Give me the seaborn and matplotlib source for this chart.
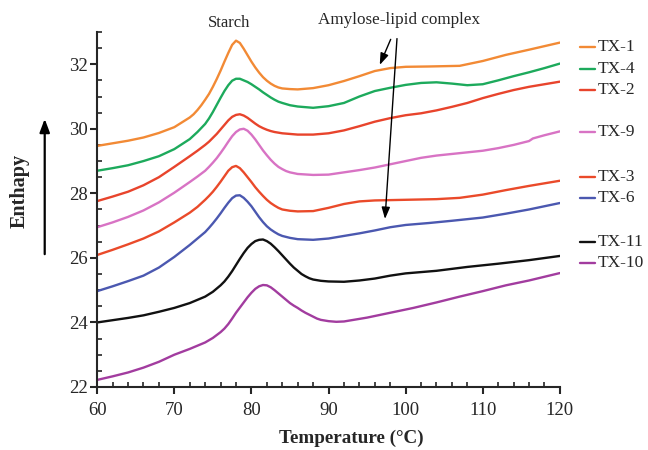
import numpy as np
import pandas as pd
import matplotlib
matplotlib.use("Agg")
import matplotlib.pyplot as plt
import seaborn as sns

# DSC thermograms: temperature (°C) vs. enthalpy signal for each sample
tx1_t = [60, 62, 64, 66, 68, 70, 72, 72.5, 73, 73.5, 74, 74.5, 75, 75.5, 76, 76.5, 77, 77.5, 78, 78.5, 79, 79.5, 80, 80.5, 81, 81.5, 82, 82.5, 83, 83.5, 84, 85, 86, 88, 90, 92, 94, 96, 98, 100, 103, 107, 110, 113, 116, 120]
tx1_h = [29.47, 29.55, 29.63, 29.73, 29.87, 30.05, 30.35, 30.45, 30.58, 30.73, 30.9, 31.08, 31.3, 31.54, 31.8, 32.08, 32.35, 32.6, 32.73, 32.66, 32.48, 32.28, 32.08, 31.9, 31.74, 31.6, 31.49, 31.4, 31.33, 31.28, 31.25, 31.23, 31.22, 31.26, 31.35, 31.48, 31.63, 31.79, 31.88, 31.92, 31.93, 31.95, 32.1, 32.29, 32.45, 32.67]

tx4_t = [60, 62, 64, 66, 68, 70, 72, 73, 74, 74.5, 75, 75.5, 76, 76.5, 77, 77.5, 78, 78.5, 79, 79.5, 80, 80.5, 81, 81.5, 82, 82.5, 83, 83.5, 84, 85, 86, 88, 90, 92, 94, 96, 98, 100, 102, 104, 106, 108, 110, 112, 114, 116, 118, 120]
tx4_h = [28.70, 28.78, 28.87, 29.0, 29.15, 29.37, 29.68, 29.9, 30.15, 30.32, 30.52, 30.74, 30.96, 31.17, 31.35, 31.49, 31.55, 31.55, 31.5, 31.45, 31.38, 31.3, 31.22, 31.13, 31.05, 30.97, 30.9, 30.84, 30.8, 30.73, 30.69, 30.65, 30.7, 30.8, 31.0, 31.17, 31.27, 31.36, 31.42, 31.44, 31.4, 31.35, 31.38, 31.5, 31.63, 31.75, 31.88, 32.02]

tx2_t = [60, 62, 64, 66, 68, 70, 72, 73, 74, 74.5, 75, 75.5, 76, 76.5, 77, 77.5, 78, 78.5, 79, 79.5, 80, 80.5, 81, 81.5, 82, 82.5, 83, 84, 86, 88, 90, 92, 94, 96, 98, 100, 102, 104, 106, 108, 110, 112, 114, 116, 118, 120]
tx2_h = [27.76, 27.9, 28.05, 28.25, 28.5, 28.82, 29.15, 29.32, 29.5, 29.6, 29.72, 29.84, 29.98, 30.12, 30.26, 30.37, 30.43, 30.45, 30.41, 30.34, 30.25, 30.16, 30.08, 30.02, 29.97, 29.93, 29.9, 29.86, 29.82, 29.82, 29.86, 29.95, 30.08, 30.22, 30.33, 30.42, 30.48, 30.57, 30.68, 30.8, 30.95, 31.08, 31.2, 31.3, 31.38, 31.46]

tx9_t = [60, 62, 64, 66, 68, 70, 72, 73, 74, 74.5, 75, 75.5, 76, 76.5, 77, 77.5, 78, 78.5, 79, 79.5, 80, 80.5, 81, 81.5, 82, 82.5, 83, 83.5, 84, 84.5, 85, 86, 88, 90, 92, 94, 96, 98, 100, 102, 104, 106, 108, 110, 112, 114, 115, 116, 116.5, 118, 120]
tx9_h = [26.95, 27.1, 27.27, 27.47, 27.72, 28.02, 28.35, 28.52, 28.7, 28.82, 28.95, 29.09, 29.25, 29.42, 29.6, 29.77, 29.9, 29.98, 30.0, 29.94, 29.82, 29.67, 29.5, 29.33, 29.18, 29.04, 28.92, 28.82, 28.75, 28.69, 28.65, 28.6, 28.57, 28.58, 28.65, 28.72, 28.8, 28.9, 29.0, 29.1, 29.17, 29.22, 29.27, 29.32, 29.4, 29.5, 29.56, 29.62, 29.7, 29.8, 29.92]

tx3_t = [60, 62, 64, 66, 68, 70, 72, 73, 74, 74.5, 75, 75.5, 76, 76.5, 77, 77.5, 78, 78.5, 79, 79.5, 80, 80.5, 81, 81.5, 82, 82.5, 83, 83.5, 84, 85, 86, 88, 90, 92, 94, 96, 98, 100, 104, 107, 110, 113, 116, 120]
tx3_h = [26.09, 26.25, 26.42, 26.6, 26.82, 27.1, 27.4, 27.58, 27.8, 27.92, 28.05, 28.2, 28.36, 28.53, 28.7, 28.81, 28.85, 28.78, 28.65, 28.5, 28.35, 28.19, 28.05, 27.92, 27.8, 27.7, 27.62, 27.55, 27.5, 27.46, 27.44, 27.45, 27.55, 27.67, 27.75, 27.78, 27.79, 27.8, 27.82, 27.86, 27.96, 28.1, 28.23, 28.39]

tx6_t = [60, 62, 64, 66, 68, 70, 72, 73, 74, 74.5, 75, 75.5, 76, 76.5, 77, 77.5, 78, 78.5, 79, 79.5, 80, 80.5, 81, 81.5, 82, 82.5, 83, 83.5, 84, 85, 86, 88, 90, 92, 94, 96, 98, 100, 103, 106, 110, 113, 116, 120]
tx6_h = [24.97, 25.12, 25.28, 25.45, 25.7, 26.03, 26.4, 26.6, 26.8, 26.93, 27.07, 27.22, 27.38, 27.55, 27.71, 27.85, 27.93, 27.94, 27.86, 27.74, 27.6, 27.43, 27.26, 27.11, 26.98, 26.88, 26.8, 26.73, 26.68, 26.62, 26.58, 26.56, 26.6, 26.68, 26.76, 26.85, 26.95, 27.02, 27.08, 27.15, 27.25, 27.37, 27.5, 27.7]

tx11_t = [60, 62, 64, 66, 68, 70, 72, 74, 75, 76, 76.5, 77, 77.5, 78, 78.5, 79, 79.5, 80, 80.5, 81, 81.5, 82, 82.5, 83, 83.5, 84, 84.5, 85, 85.5, 86, 86.5, 87, 87.5, 88, 89, 90, 92, 94, 96, 98, 100, 104, 108, 112, 116, 120]
tx11_h = [24.0, 24.07, 24.14, 24.22, 24.33, 24.45, 24.6, 24.8, 24.95, 25.15, 25.27, 25.42, 25.59, 25.78, 25.97, 26.15, 26.31, 26.43, 26.52, 26.56, 26.57, 26.52, 26.44, 26.33, 26.21, 26.08, 25.95, 25.82, 25.7, 25.6, 25.5, 25.43, 25.37, 25.33, 25.29, 25.27, 25.26, 25.3, 25.36, 25.45, 25.52, 25.6, 25.72, 25.82, 25.93, 26.06]

tx10_t = [60, 62, 64, 66, 68, 70, 72, 74, 75, 76, 76.5, 77, 77.5, 78, 78.5, 79, 79.5, 80, 80.5, 81, 81.5, 82, 82.5, 83, 83.5, 84, 84.5, 85, 85.5, 86, 86.5, 87, 87.5, 88, 88.5, 89, 90, 91, 92, 95, 98, 101, 104, 107, 110, 113, 116, 120]
tx10_h = [22.22, 22.33, 22.45, 22.6, 22.78, 23.0, 23.18, 23.38, 23.52, 23.7, 23.81, 23.95, 24.12, 24.3, 24.46, 24.62, 24.78, 24.92, 25.04, 25.12, 25.16, 25.15, 25.09, 25.0, 24.9, 24.8, 24.7, 24.6, 24.52, 24.45, 24.37, 24.3, 24.24, 24.18, 24.12, 24.08, 24.04, 24.02, 24.03, 24.15, 24.3, 24.45, 24.62, 24.8, 24.97, 25.15, 25.3, 25.53]

samples = ["TX-1", "TX-4", "TX-2", "TX-9", "TX-3", "TX-6", "TX-11", "TX-10"]
colors = ["#F28A35", "#1DAA5C", "#E8442C", "#D873C4", "#EA4A2A", "#4B58B0", "#111111", "#A23C9F"]
label_y = [32.54, 31.86, 31.21, 29.91, 28.51, 27.86, 26.50, 25.84]

series = {
    "TX-1": (tx1_t, tx1_h), "TX-4": (tx4_t, tx4_h), "TX-2": (tx2_t, tx2_h),
    "TX-9": (tx9_t, tx9_h), "TX-3": (tx3_t, tx3_h), "TX-6": (tx6_t, tx6_h),
    "TX-11": (tx11_t, tx11_h), "TX-10": (tx10_t, tx10_h),
}
df = pd.concat(
    [pd.DataFrame({"T": t, "H": h, "sample": name}) for name, (t, h) in series.items()],
    ignore_index=True,
)

sns.set_style("ticks")
plt.rcParams["font.family"] = ["Liberation Serif", "DejaVu Serif"]
plt.rcParams["lines.solid_joinstyle"] = "round"

fig = plt.figure(figsize=(6.48, 4.5), dpi=100)
ax = fig.add_axes([0.150, 0.140, 0.714, 0.789])

sns.lineplot(data=df, x="T", y="H", hue="sample", hue_order=samples,
             palette=dict(zip(samples, colors)), sort=False, estimator=None,
             linewidth=1.7, legend=False, ax=ax)

ax.set_xlim(60, 120)
ax.set_ylim(22, 33)
ax.set_xticks(np.arange(60, 121, 10))
ax.set_xticks(np.arange(60, 121, 2), minor=True)
ax.set_yticks(np.arange(22, 33, 2))
ax.set_yticks(np.arange(22, 33.01, 0.5), minor=True)
# major ticks point outward, minor ticks point inward
ax.tick_params(axis="both", which="major", direction="out", length=5, width=1.5,
               labelsize=13.5)
ax.tick_params(axis="x", which="major", pad=6)
ax.tick_params(axis="y", which="major", pad=2)
ax.tick_params(axis="both", which="minor", direction="in", length=3.5, width=1.2)
for side in ("top", "right"):
    ax.spines[side].set_visible(False)
for side in ("left", "bottom"):
    ax.spines[side].set_linewidth(1.5)

ax.set_xlabel("Temperature (°C)", fontsize=13.8, fontweight="bold")
ax.xaxis.label.set_verticalalignment("center")
ax.xaxis.set_label_coords(0.549, -0.146)
ax.set_ylabel("")

# sample labels at the right-hand end of each trace
for name, col, y in zip(samples, colors, label_y):
    ax.plot([122.6, 124.5], [y, y], color=col, lw=1.7, clip_on=False)
    ax.text(124.9, y, name, fontsize=12.5, va="center", ha="left", clip_on=False)

# enthalpy direction arrow and label
fig.text(0.031, 0.576, "Enthapy", rotation=90, fontsize=14.5, fontweight="bold",
         ha="center", va="center")
fig.add_artist(matplotlib.patches.FancyArrowPatch(
    (0.069, 0.429), (0.069, 0.742), transform=fig.transFigure,
    arrowstyle="-|>,head_length=8,head_width=3", color="black", lw=1.6))

# peak annotations
ax.text(77.1, 33.27, "Starch", fontsize=12, ha="center", va="center", clip_on=False)
ax.text(99.1, 33.36, "Amylose-lipid complex", fontsize=12.3, ha="center", va="center",
        clip_on=False)
ax.annotate("", xy=(96.5, 31.9), xytext=(98.2, 32.85),
            arrowprops=dict(arrowstyle="-|>,head_length=0.7,head_width=0.25",
                            color="black", lw=1.0), annotation_clip=False)
ax.annotate("", xy=(97.3, 27.12), xytext=(98.9, 32.88),
            arrowprops=dict(arrowstyle="-|>,head_length=0.7,head_width=0.25",
                            color="black", lw=1.0), annotation_clip=False)

fig.savefig("out.png", dpi=100)
